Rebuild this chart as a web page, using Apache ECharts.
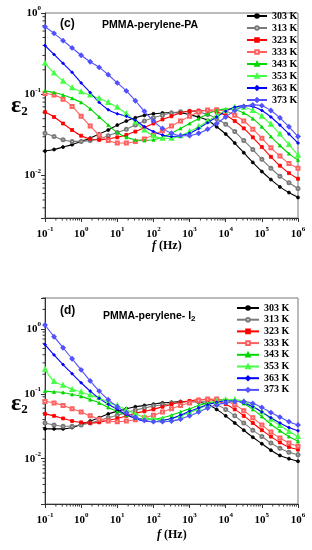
<!DOCTYPE html>
<html><head><meta charset="utf-8">
<script src="https://cdn.jsdelivr.net/npm/echarts@6/dist/echarts.min.js"></script>
<style>html,body{margin:0;padding:0;background:#fff}#c{width:312px;height:550px}</style>
</head><body><div id="c"></div>
<script>
// frequency grid (Hz)
const freq = [0.1, 0.178, 0.316, 0.562, 1, 1.78, 3.16, 5.62, 10, 17.8, 31.6, 56.2, 100, 178, 316, 562, 1000, 1780, 3160, 5620, 1e4, 1.78e4, 3.16e4, 5.62e4, 1e5, 1.78e5, 3.16e5, 5.62e5, 1e6];
const temps = ['303 K', '313 K', '323 K', '333 K', '343 K', '353 K', '363 K', '373 K'];

// (c) PMMA-perylene-PA
const pa303 = [0.0200, 0.0209, 0.0224, 0.0240, 0.0263, 0.0288, 0.0324, 0.0363, 0.0417, 0.0468, 0.0513, 0.0550, 0.0575, 0.0589, 0.0596, 0.0589, 0.0562, 0.0525, 0.0479, 0.0398, 0.0324, 0.0251, 0.0191, 0.0145, 0.0112, 0.00891, 0.00724, 0.00617, 0.00537];
const pa313 = [0.0331, 0.0302, 0.0275, 0.0263, 0.0263, 0.0269, 0.0282, 0.0309, 0.0339, 0.0372, 0.0417, 0.0468, 0.0513, 0.0550, 0.0589, 0.0610, 0.0617, 0.0603, 0.0562, 0.0501, 0.0427, 0.0347, 0.0269, 0.0209, 0.0158, 0.0123, 0.00977, 0.00813, 0.00692];
const pa323 = [0.0603, 0.0525, 0.0437, 0.0363, 0.0309, 0.0282, 0.0275, 0.0282, 0.0295, 0.0316, 0.0347, 0.0389, 0.0437, 0.0490, 0.0537, 0.0589, 0.0617, 0.0631, 0.0631, 0.0603, 0.0550, 0.0468, 0.0380, 0.0295, 0.0224, 0.0170, 0.0132, 0.0107, 0.00912];
const pa333 = [0.102, 0.0977, 0.0871, 0.0708, 0.0537, 0.0407, 0.0316, 0.0269, 0.0251, 0.0251, 0.0263, 0.0282, 0.0316, 0.0355, 0.0407, 0.0468, 0.0537, 0.0603, 0.0638, 0.0646, 0.0617, 0.0550, 0.0468, 0.0372, 0.0288, 0.0219, 0.0174, 0.0141, 0.0123];
const pa343 = [0.110, 0.105, 0.0977, 0.0891, 0.0794, 0.0661, 0.0525, 0.0417, 0.0339, 0.0295, 0.0275, 0.0269, 0.0275, 0.0295, 0.0331, 0.0380, 0.0437, 0.0501, 0.0575, 0.0631, 0.0661, 0.0646, 0.0589, 0.0501, 0.0398, 0.0302, 0.0234, 0.0186, 0.0155];
const pa353 = [0.240, 0.182, 0.145, 0.120, 0.107, 0.0977, 0.0891, 0.0794, 0.0692, 0.0575, 0.0457, 0.0363, 0.0309, 0.0288, 0.0288, 0.0309, 0.0347, 0.0398, 0.0468, 0.0550, 0.0631, 0.0692, 0.0692, 0.0631, 0.0537, 0.0427, 0.0324, 0.0240, 0.0178];
const pa363 = [0.398, 0.309, 0.240, 0.186, 0.138, 0.105, 0.0794, 0.0646, 0.0575, 0.0537, 0.0479, 0.0398, 0.0347, 0.0316, 0.0302, 0.0309, 0.0331, 0.0380, 0.0447, 0.0525, 0.0617, 0.0692, 0.0724, 0.0708, 0.0631, 0.0525, 0.0417, 0.0324, 0.0251];
const pa373 = [0.676, 0.562, 0.457, 0.372, 0.302, 0.251, 0.214, 0.174, 0.138, 0.110, 0.0832, 0.0617, 0.0468, 0.0380, 0.0331, 0.0309, 0.0309, 0.0331, 0.0372, 0.0437, 0.0525, 0.0631, 0.0708, 0.0741, 0.0724, 0.0631, 0.0513, 0.0398, 0.0302];

// (d) PMMA-perylene-I2
const io303 = [0.0288, 0.0288, 0.0288, 0.0302, 0.0339, 0.0380, 0.0427, 0.0490, 0.0537, 0.0589, 0.0631, 0.0661, 0.0692, 0.0724, 0.0741, 0.0759, 0.0759, 0.0741, 0.0692, 0.0575, 0.0457, 0.0355, 0.0275, 0.0214, 0.0170, 0.0135, 0.0112, 0.0100, 0.00912];
const io313 = [0.0355, 0.0331, 0.0316, 0.0316, 0.0331, 0.0355, 0.0389, 0.0427, 0.0468, 0.0513, 0.0562, 0.0603, 0.0646, 0.0676, 0.0708, 0.0741, 0.0759, 0.0759, 0.0741, 0.0676, 0.0575, 0.0457, 0.0355, 0.0275, 0.0219, 0.0174, 0.0145, 0.0126, 0.0115];
const io323 = [0.0490, 0.0457, 0.0417, 0.0380, 0.0363, 0.0355, 0.0363, 0.0389, 0.0417, 0.0457, 0.0501, 0.0537, 0.0575, 0.0631, 0.0692, 0.0741, 0.0776, 0.0813, 0.0813, 0.0776, 0.0692, 0.0575, 0.0457, 0.0355, 0.0275, 0.0219, 0.0178, 0.0151, 0.0138];
const io333 = [0.0759, 0.0724, 0.0661, 0.0589, 0.0525, 0.0457, 0.0407, 0.0380, 0.0372, 0.0380, 0.0398, 0.0427, 0.0468, 0.0525, 0.0589, 0.0661, 0.0724, 0.0794, 0.0832, 0.0832, 0.0776, 0.0676, 0.0550, 0.0427, 0.0331, 0.0257, 0.0209, 0.0174, 0.0155];
const io343 = [0.110, 0.107, 0.105, 0.0977, 0.0912, 0.0813, 0.0724, 0.0617, 0.0537, 0.0468, 0.0427, 0.0407, 0.0407, 0.0427, 0.0468, 0.0525, 0.0589, 0.0661, 0.0724, 0.0776, 0.0813, 0.0794, 0.0708, 0.0575, 0.0447, 0.0339, 0.0269, 0.0219, 0.0186];
const io353 = [0.240, 0.155, 0.135, 0.117, 0.107, 0.0955, 0.0871, 0.0741, 0.0661, 0.0562, 0.0490, 0.0437, 0.0407, 0.0398, 0.0417, 0.0457, 0.0513, 0.0589, 0.0676, 0.0759, 0.0813, 0.0813, 0.0759, 0.0646, 0.0525, 0.0407, 0.0324, 0.0263, 0.0219];
const io363 = [0.575, 0.398, 0.282, 0.204, 0.148, 0.110, 0.0851, 0.0692, 0.0575, 0.0479, 0.0417, 0.0380, 0.0372, 0.0389, 0.0417, 0.0468, 0.0537, 0.0603, 0.0676, 0.0741, 0.0776, 0.0776, 0.0724, 0.0631, 0.0525, 0.0427, 0.0355, 0.0302, 0.0269];
const io373 = [1.15, 0.759, 0.513, 0.347, 0.234, 0.158, 0.110, 0.0813, 0.0631, 0.0513, 0.0437, 0.0389, 0.0372, 0.0372, 0.0380, 0.0407, 0.0457, 0.0525, 0.0603, 0.0676, 0.0724, 0.0759, 0.0759, 0.0708, 0.0617, 0.0513, 0.0437, 0.0372, 0.0331];

// axis ranges and minor ticks
const xRange = [0.1, 1e6];
const yRangeC = [0.003, 1];
const yRangeD = [0.002, 3];
const minorX = [0.2,0.3,0.4,0.5,0.6,0.7,0.8,0.9, 2,3,4,5,6,7,8,9, 20,30,40,50,60,70,80,90, 200,300,400,500,600,700,800,900, 2000,3000,4000,5000,6000,7000,8000,9000, 2e4,3e4,4e4,5e4,6e4,7e4,8e4,9e4, 2e5,3e5,4e5,5e5,6e5,7e5,8e5,9e5];
const minorYC = [0.004,0.005,0.006,0.007,0.008,0.009, 0.02,0.03,0.04,0.05,0.06,0.07,0.08,0.09, 0.2,0.3,0.4,0.5,0.6,0.7,0.8,0.9];
const minorYD = [0.003,0.004,0.005,0.006,0.007,0.008,0.009, 0.02,0.03,0.04,0.05,0.06,0.07,0.08,0.09, 0.2,0.3,0.4,0.5,0.6,0.7,0.8,0.9, 2, 3];

const paSets = [pa303, pa313, pa323, pa333, pa343, pa353, pa363, pa373];
const ioSets = [io303, io313, io323, io333, io343, io353, io363, io373];
const colors = ['#000000', '#7a7a7a', '#ff0000', '#ff6060', '#00d800', '#44ff44', '#0000ff', '#5050ff'];
const symbols = ['circle', 'emptyCircle', 'rect', 'emptyRect', 'triangle', 'emptyTriangle', 'diamond', 'emptyDiamond'];

const SERIF = '"Liberation Serif", "Times New Roman", serif';
const SANS = '"Liberation Sans", Arial, sans-serif';

function powLabel(v) {
  const e = Math.log10(v);
  const r = Math.round(e);
  if (Math.abs(e - r) > 1e-6) return '';
  return '10{s|' + r + '}';
}
// lower y axis: the 10^0 label is drawn separately below (it is dropped by the axis layout)
function powLabelD(v) {
  const e = Math.log10(v);
  if (Math.abs(e) < 1e-6) return '';
  return powLabel(v);
}
const supRich = { s: { fontFamily: SERIF, fontWeight: 'bold', fontSize: 7, lineHeight: 7, verticalAlign: 'top', color: '#000' } };
function labelStyle(fmt) {
  return { formatter: fmt || powLabel, fontFamily: SERIF, fontWeight: 'bold', fontSize: 11, color: '#000', lineHeight: 16, rich: supRich };
}
function axLine() { return { show: true, onZero: false, lineStyle: { color: '#333', width: 1 } }; }

function xAx(gi) {
  return { type: 'log', gridIndex: gi, min: xRange[0], max: xRange[1],
    axisLine: axLine(), axisTick: { show: true, length: 4, lineStyle: { color: '#333' } },
    axisLabel: Object.assign({ margin: 8 }, labelStyle()),
    splitLine: { show: false } };
}
function yAx(gi, r, fmt) {
  return { type: 'log', gridIndex: gi, min: r[0], max: r[1],
    axisLine: axLine(), axisTick: { show: true, length: 4, lineStyle: { color: '#333' } },
    axisLabel: Object.assign({ margin: 4 }, labelStyle(fmt)),
    splitLine: { show: false } };
}

function lineSeries(sets, gi) {
  return sets.map((d, i) => ({
    type: 'line', name: temps[i], xAxisIndex: gi, yAxisIndex: gi,
    data: freq.map((f, k) => [f, d[k]]),
    smooth: 0.3, symbol: symbols[i], symbolSize: 3, showSymbol: true,
    lineStyle: { color: colors[i], width: 1.1 },
    itemStyle: { color: colors[i], borderColor: colors[i], borderWidth: 0.8 },
    emphasis: { disabled: true }, animation: false
  }));
}
function minorSeries(gi, yr, minorY) {
  const data = minorX.map(v => [v, yr[0], 0]).concat(minorY.map(v => [xRange[0], v, 1]));
  return {
    type: 'custom', xAxisIndex: gi, yAxisIndex: gi, silent: true, clip: false, data,
    renderItem: (params, api) => {
      const p = api.coord([api.value(0), api.value(1)]);
      const k = api.value(2);
      const shape = k === 0 ? { x1: p[0], y1: p[1], x2: p[0], y2: p[1] + 2.5 } : { x1: p[0], y1: p[1], x2: p[0] - 2.5, y2: p[1] };
      return { type: 'line', shape, style: { stroke: '#333', lineWidth: 1 } };
    }
  };
}
// the 10^0 label of the lower y axis, placed via the axis' own scale
function unitLabelSeries(gi) {
  return {
    type: 'custom', xAxisIndex: gi, yAxisIndex: gi, silent: true, clip: false, z: 10,
    data: [[xRange[0], 1]],
    renderItem: (params, api) => {
      const p = api.coord([api.value(0), api.value(1)]);
      return { type: 'text', x: p[0] - 4, y: p[1], style: {
        text: '10{s|0}', align: 'right', verticalAlign: 'middle', fill: '#000',
        font: 'bold 11px ' + SERIF, lineHeight: 16,
        rich: { s: { font: 'bold 7px ' + SERIF, lineHeight: 7, verticalAlign: 'top', fill: '#000' } } } };
    }
  };
}
const legendText = { fontFamily: SERIF, fontWeight: 'bold', fontSize: 10, color: '#000', lineHeight: 10 };

const chart = echarts.init(document.getElementById('c'), null, { renderer: 'canvas' });
chart.setOption({
  animation: false,
  backgroundColor: '#fff',
  grid: [
    { left: 45, top: 13, width: 253, height: 205, show: true, borderColor: '#777', borderWidth: 1 },
    { left: 45, top: 298, width: 253, height: 206, show: true, borderColor: '#777', borderWidth: 1 }
  ],
  xAxis: [xAx(0), xAx(1)],
  yAxis: [yAx(0, yRangeC), yAx(1, yRangeD, powLabelD)],
  legend: [
    { data: temps, orient: 'vertical', left: 246, top: 11, itemWidth: 20, itemHeight: 4.5, itemGap: 2, textStyle: legendText, selectedMode: false, padding: 0 },
    { data: temps, orient: 'vertical', left: 236, top: 303, itemWidth: 22, itemHeight: 4.5, itemGap: 1.7, textStyle: legendText, selectedMode: false, padding: 0 }
  ],
  graphic: [
    { id: 'tc', type: 'text', left: 60, top: 18, style: { text: '(c)', font: 'bold 12px ' + SANS, fill: '#000' } },
    { id: 'nc', type: 'text', left: 102, top: 20, style: { text: 'PMMA-perylene-PA', font: 'bold 10.5px ' + SANS, fill: '#000' } },
    { id: 'td', type: 'text', left: 60, top: 305, style: { text: '(d)', font: 'bold 12px ' + SANS, fill: '#000' } },
    { id: 'nd', type: 'text', left: 103, top: 309, style: { text: 'PMMA-perylene- I{s|2}', font: 'bold 10.5px ' + SANS, fill: '#000', lineHeight: 14,
      rich: { s: { font: 'bold 8px ' + SANS, lineHeight: 9, verticalAlign: 'bottom', fill: '#000' } } } },
    { id: 'ec', type: 'text', left: 11, top: 94, style: { text: '{e|ε}{s|2}', rich: {
      e: { font: 'bold 24px ' + SERIF, lineHeight: 24, fill: '#000' },
      s: { font: 'bold 13px ' + SERIF, lineHeight: 12, verticalAlign: 'bottom', fill: '#000' } } } },
    { id: 'ed', type: 'text', left: 11, top: 392, style: { text: '{e|ε}{s|2}', rich: {
      e: { font: 'bold 24px ' + SERIF, lineHeight: 24, fill: '#000' },
      s: { font: 'bold 13px ' + SERIF, lineHeight: 12, verticalAlign: 'bottom', fill: '#000' } } } },
    { id: 'fc', type: 'text', left: 152, top: 240, style: { text: '{i|f} (Hz)', font: 'bold 12px ' + SERIF, fill: '#000',
      rich: { i: { font: 'italic bold 12px ' + SERIF, fill: '#000' } } } },
    { id: 'fd', type: 'text', left: 157, top: 529, style: { text: '{i|f} (Hz)', font: 'bold 12px ' + SERIF, fill: '#000',
      rich: { i: { font: 'italic bold 12px ' + SERIF, fill: '#000' } } } }
  ],
  series: [minorSeries(0, yRangeC, minorYC), minorSeries(1, yRangeD, minorYD), unitLabelSeries(1)]
    .concat(lineSeries(paSets, 0)).concat(lineSeries(ioSets, 1))
});
</script>
</body></html>
